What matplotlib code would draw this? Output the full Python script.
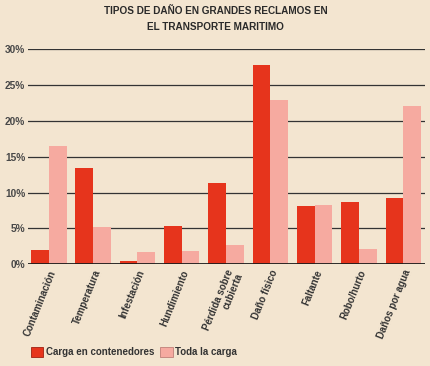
import matplotlib
matplotlib.use("Agg")
import matplotlib.pyplot as plt
import numpy as np
from matplotlib.patches import Patch

categories = ["Contaminación", "Temperatura", "Infestación", "Hundimiento",
              "Pérdida sobre\ncubierta", "Daño físico", "Faltante", "Robo/hurto",
              "Daños por agua"]
contenedores = [2.0, 13.5, 0.4, 5.3, 11.4, 27.8, 8.2, 8.7, 9.3]
toda_carga = [16.5, 5.2, 1.7, 1.9, 2.7, 22.9, 8.3, 2.2, 22.1]
yticks = [0, 5, 10, 15, 20, 25, 30]

red = "#e6341c"
pink = "#f6aaa0"
bg = "#f3e5d0"

plt.rcParams['font.family'] = ['Liberation Sans', 'DejaVu Sans']

fig = plt.figure(figsize=(4.31, 3.66), dpi=100, facecolor=bg)
ax = fig.add_axes([28/431, 1-264.3/366, (425-28)/431, (264.3-49.3)/366])
ax.set_facecolor(bg)

x = np.arange(len(categories))
w = 0.4
ax.bar(x - w/2, contenedores, w, color=red, zorder=3)
ax.bar(x + w/2, toda_carga, w, color=pink, zorder=3)

ax.set_ylim(0, 30)
ax.set_xlim(-0.47, 8.49)
ax.set_yticks(yticks)
ax.set_yticklabels([f"{t}%" for t in yticks], fontsize=7.3, fontweight='bold', color="#484848")
for t in yticks[1:]:
    ax.axhline(t, color="#333333", lw=0.9, zorder=1)
ax.axhline(0, color="#1a1a1a", lw=2.0, zorder=4)
ax.tick_params(axis='y', length=0, pad=2)
ax.tick_params(axis='x', length=0, pad=3)
ax.set_xticks(x)
ax.set_xticklabels(categories, rotation=68, ha='right', va='top', rotation_mode='anchor',
                   fontsize=7, fontweight='bold', color="#333333", linespacing=0.95)
for s in ax.spines.values():
    s.set_visible(False)

fig.text(0.5, 1-6/366, "TIPOS DE DAÑO EN GRANDES RECLAMOS EN\nEL TRANSPORTE MARITIMO",
         ha='center', va='top', fontsize=7.2, fontweight='bold', color="#2a2a2a", linespacing=1.7)

handles = [Patch(facecolor=red, edgecolor="#a02010", lw=0.6),
           Patch(facecolor=pink, edgecolor="#c08078", lw=0.6)]
fig.legend(handles, ["Carga en contenedores", "Toda la carga"], loc='lower left',
           bbox_to_anchor=(22/431, 0/366), ncol=2, frameon=False,
           prop={'size': 7, 'weight': 'bold'}, handlelength=1.3, handleheight=1.3,
           handletextpad=0.25, columnspacing=0.6, labelcolor="#333333")

fig.savefig("out.png", dpi=100, facecolor=bg)
